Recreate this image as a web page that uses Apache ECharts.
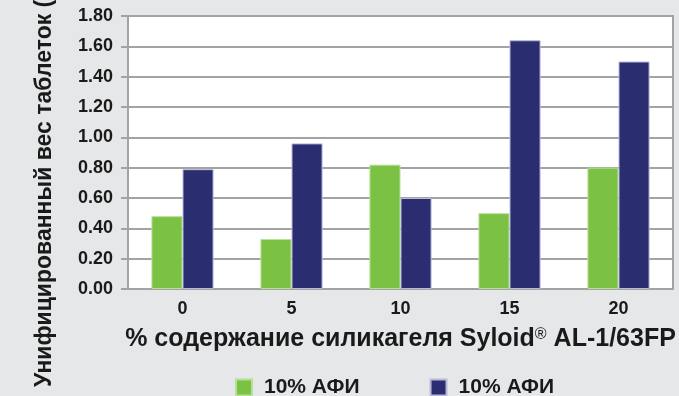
<!DOCTYPE html>
<html>
<head>
<meta charset="utf-8">
<script src="https://cdn.jsdelivr.net/npm/echarts@6/dist/echarts.min.js"></script>
<style>
  html, body { margin: 0; padding: 0; background: #e6e7e8; }
  #chart { width: 679px; height: 396px; }
</style>
</head>
<body>
<div id="chart"></div>
<script>
// Silica content, % (x categories)
const categories = ['0', '5', '10', '15', '20'];
// Normalised tablet weight for the two formulations
const seriesGreen = [0.48, 0.33, 0.82, 0.50, 0.80];
const seriesNavy = [0.79, 0.96, 0.60, 1.64, 1.50];
const seriesNames = ['10% АФИ', '10% АФИ '];

const FONT = '"Liberation Sans", Arial, sans-serif';
const INK = '#1a1a1a';
const chart = echarts.init(document.getElementById('chart'));

chart.setOption({
  backgroundColor: '#e6e7e8',
  animation: false,
  grid: {
    left: 128, right: 6, top: 16, bottom: 107,
    show: true, backgroundColor: '#ffffff',
    borderColor: '#a3a3a3', borderWidth: 2
  },
  legend: {
    left: 235, top: 377, padding: 0,
    itemWidth: 16, itemHeight: 16, itemGap: 70,
    icon: 'rect',
    data: [
      { name: seriesNames[0] },
      { name: seriesNames[1] }
    ],
    formatter: n => n.trim(),
    textStyle: {
      fontFamily: FONT, fontWeight: 'bold', fontSize: 21, color: INK,
      padding: [0, 0, 0, 7]
    }
  },
  xAxis: {
    type: 'category',
    data: categories,
    name: '{t|% содержание силикагеля Syloid}{s|®}{t| AL-1/63FP}',
    nameLocation: 'middle',
    nameGap: 38,
    nameTextStyle: {
      rich: {
        t: { fontFamily: FONT, fontWeight: 'bold', fontSize: 25, color: INK },
        s: { fontFamily: FONT, fontWeight: 'normal', fontSize: 16, color: INK,
             verticalAlign: 'top', padding: [0, 0, 9, 0] }
      }
    },
    axisLine: { lineStyle: { color: '#a3a3a3', width: 2 } },
    axisTick: { show: false },
    axisLabel: {
      fontFamily: FONT, fontWeight: 'bold', fontSize: 18, color: INK,
      margin: 11
    }
  },
  yAxis: {
    type: 'value',
    min: 0, max: 1.8, interval: 0.2,
    axisLine: { show: true, lineStyle: { color: '#a3a3a3', width: 2 } },
    axisTick: { show: true, length: 7, lineStyle: { color: '#a3a3a3', width: 2 } },
    splitLine: { lineStyle: { color: '#a3a3a3', width: 2 } },
    axisLabel: {
      fontFamily: FONT, fontWeight: 'bold', fontSize: 18, color: INK,
      margin: 15,
      formatter: v => v.toFixed(2)
    }
  },
  graphic: [{
    type: 'text',
    x: 45, y: 387,
    rotation: Math.PI / 2,
    style: {
      text: 'Унифицированный вес таблеток (г)',
      fontFamily: FONT, fontWeight: 'bold', fontSize: 23, fill: INK,
      textAlign: 'left', textVerticalAlign: 'middle'
    }
  }],
  series: [
    {
      name: seriesNames[0], type: 'bar', data: seriesGreen,
      barGap: '0%', barCategoryGap: '43%',
      itemStyle: { color: '#7bc143', borderColor: '#b9e09a', borderWidth: 1 }
    },
    {
      name: seriesNames[1], type: 'bar', data: seriesNavy,
      itemStyle: { color: '#2a2d70', borderColor: '#b8bad8', borderWidth: 1 }
    }
  ]
});
</script>
</body>
</html>
